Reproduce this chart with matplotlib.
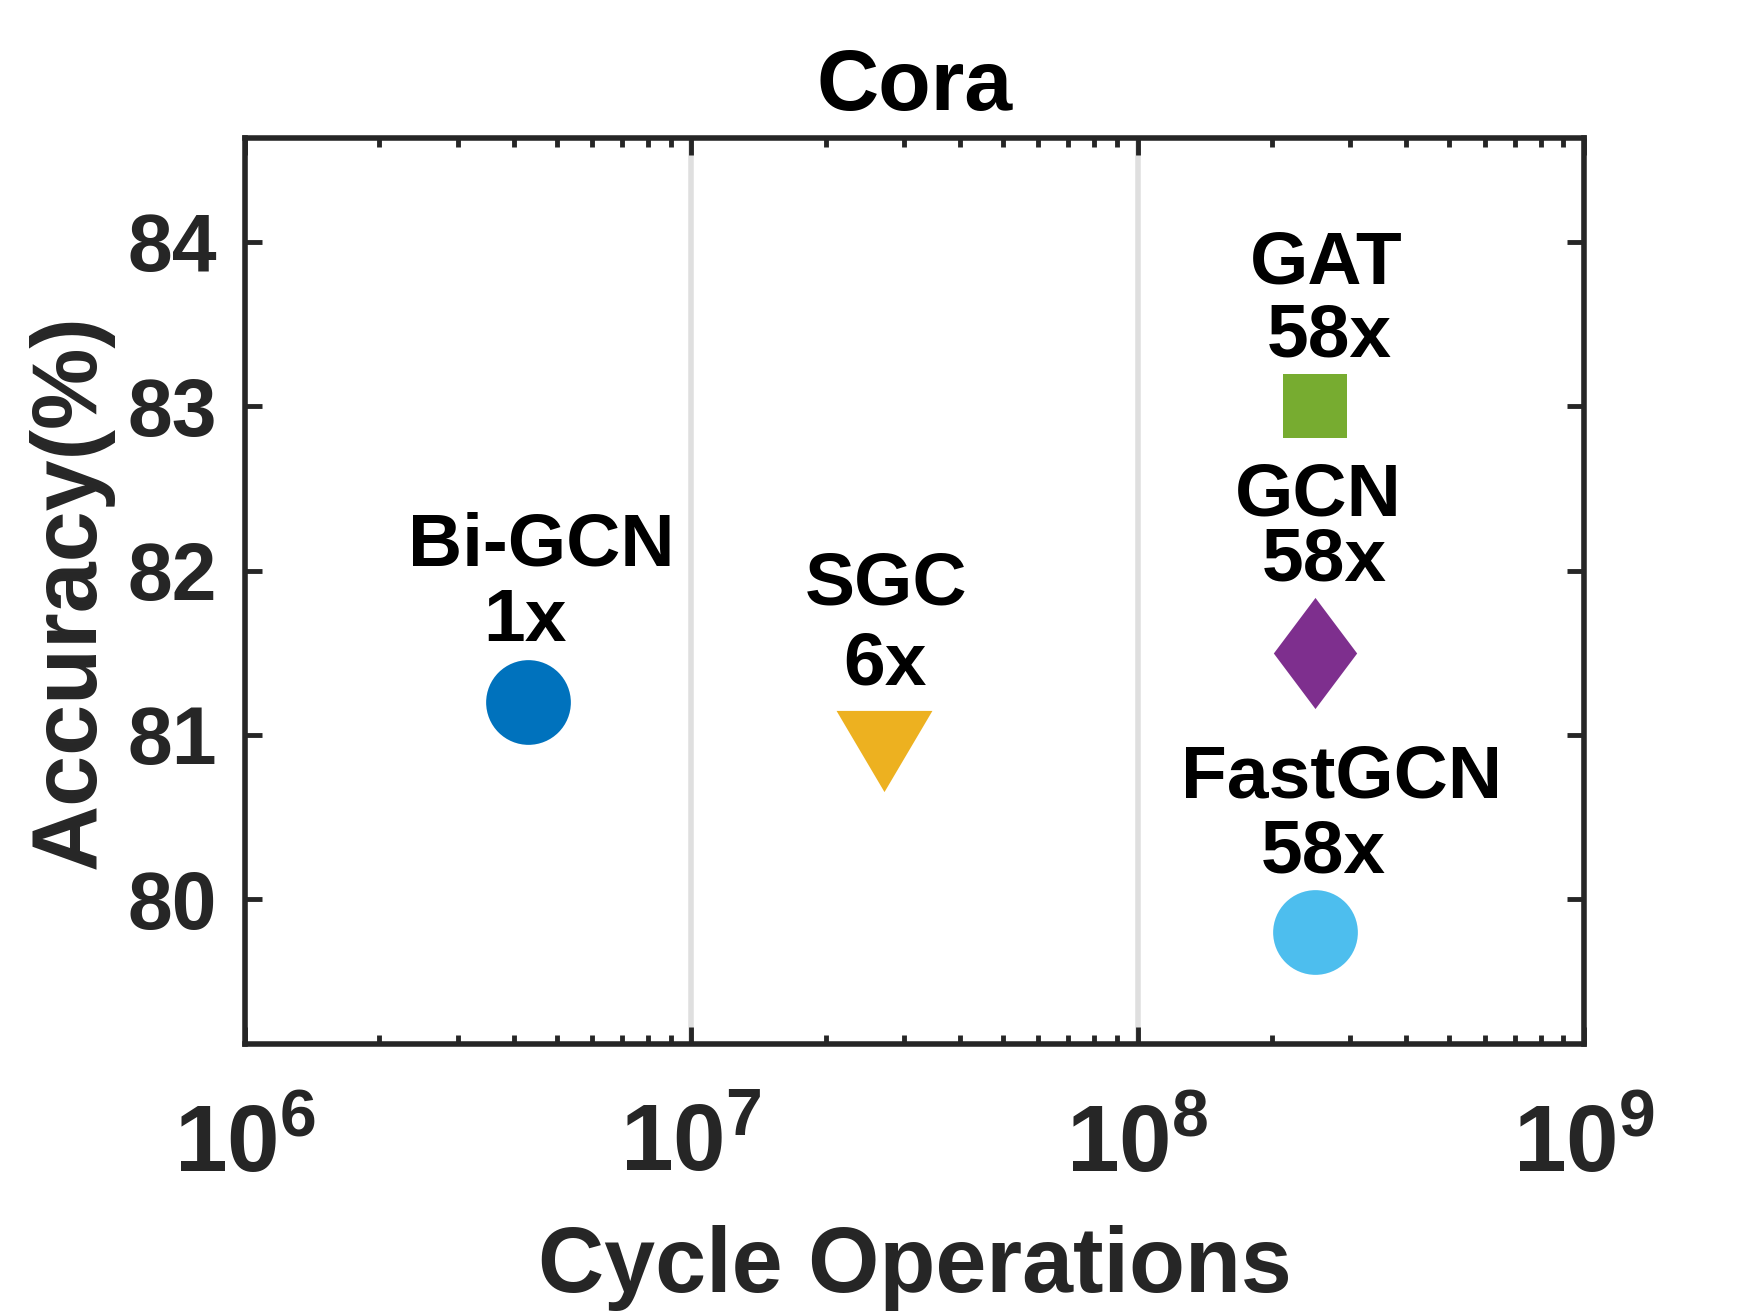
import math
import matplotlib
matplotlib.use("Agg")
import matplotlib.pyplot as plt
from matplotlib import ticker

plt.rcParams['font.family'] = ['Liberation Sans', 'DejaVu Sans']
plt.rcParams['font.weight'] = 'bold'
plt.rcParams['mathtext.fontset'] = 'custom'
plt.rcParams['mathtext.rm'] = 'Liberation Sans:bold'
plt.rcParams['mathtext.bf'] = 'Liberation Sans:bold'

# data
models = ['Bi-GCN', 'SGC', 'GAT', 'GCN', 'FastGCN']
speedups = ['1x', '6x', '58x', '58x', '58x']
cycle_ops = [4.3e6, 2.7e7, 2.5e8, 2.5e8, 2.5e8]
accuracy = [81.2, 80.9, 83.0, 81.5, 79.8]
colors = ['#0072BD', '#EDB120', '#77AC30', '#7E2F8E', '#4DBEEE']

# marker shapes and sizes (pt)
tri = [(-1, 0.847), (1, 0.847), (0, -0.847), (-1, 0.847)]
dia = [(0, 1), (0.75, 0), (0, -1), (-0.75, 0), (0, 1)]
markers = ['o', tri, 's', dia, 'o']
msizes = [61, 69, 46, 80, 61]

# label offsets in points (name line, speedup line), baseline anchored
name_off = [(10, 98), (2, 106), (8, 88), (2, 99), (19, 97)]
rate_off = [(-2, 44), (1, 48), (10, 36), (7, 52), (6, 43)]

dark = '#262626'

fig = plt.figure(figsize=(17.5, 13.15), dpi=100)
ax = fig.add_axes([0.140, 0.206, 0.765, 0.689])

ax.set_xscale('log')
ax.set_xlim(1e6, 1e9)
ax.set_ylim(79.12, 84.63)

for i in range(len(models)):
    ax.plot(cycle_ops[i], accuracy[i], linestyle='none', marker=markers[i],
            markersize=msizes[i], color=colors[i], markeredgewidth=0, zorder=3)
    ax.annotate(models[i], (cycle_ops[i], accuracy[i]), xytext=name_off[i],
                textcoords='offset points', ha='center', va='baseline',
                fontsize=54, fontweight='bold', color='black')
    ax.annotate(speedups[i], (cycle_ops[i], accuracy[i]), xytext=rate_off[i],
                textcoords='offset points', ha='center', va='baseline',
                fontsize=54, fontweight='bold', color='black')

ax.set_yticks([80, 81, 82, 83, 84])
ax.xaxis.set_major_locator(ticker.LogLocator(base=10, numticks=10))
ax.xaxis.set_minor_locator(ticker.LogLocator(base=10, subs=range(2, 10), numticks=10))
ax.xaxis.set_minor_formatter(ticker.NullFormatter())
ax.xaxis.set_major_formatter(ticker.FuncFormatter(
    lambda v, p: r'$\mathbf{10^{%d}}$' % round(math.log10(v))))

ax.grid(True, axis='x', which='major', color='#dfdfdf', linewidth=4, zorder=0)
ax.set_axisbelow(True)

for s in ax.spines.values():
    s.set_linewidth(4)
    s.set_color(dark)

ax.tick_params(which='both', direction='in', top=True, right=True,
               color=dark, labelcolor=dark)
ax.tick_params(which='major', length=12, width=3.5)
ax.tick_params(which='minor', length=6.5, width=3.5)
ax.tick_params(axis='y', labelsize=58, pad=20)
ax.tick_params(axis='x', labelsize=68, pad=42)

ax.set_xlabel('Cycle Operations', fontsize=66, fontweight='bold', color=dark)
ax.set_ylabel('Accuracy(%)', fontsize=66, fontweight='bold', color=dark)
ax.xaxis.set_label_coords(0.5, -0.20)
ax.yaxis.set_label_coords(-0.098, 0.5)
ax.set_title('Cora', fontsize=62, fontweight='bold', color='black', pad=20)

fig.savefig('out.png', dpi=100, facecolor='white')
